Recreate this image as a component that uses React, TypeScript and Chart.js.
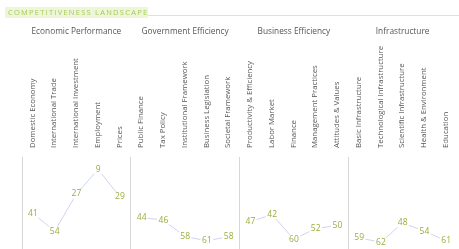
import React, { useEffect, useRef } from 'react';
import { Chart, registerables } from 'chart.js';

Chart.register(...registerables);

const headerTitle = 'COMPETITIVENESS LANDSCAPE';
const groups = ['Economic Performance', 'Government Efficiency', 'Business Efficiency', 'Infrastructure'];
const economicFactors = ['Domestic Economy', 'International Trade', 'International Investment', 'Employment', 'Prices'];
const governmentFactors = ['Public Finance', 'Tax Policy', 'Institutional Framework', 'Business Legislation', 'Societal Framework'];
const businessFactors = ['Productivity & Efficiency', 'Labor Market', 'Finance', 'Management Practices', 'Attitudes & Values'];
const infrastructureFactors = ['Basic Infrastructure', 'Technological Infrastructure', 'Scientific Infrastructure', 'Health & Environment', 'Education'];

const economicRanks = [41, 54, 27, 9, 29];
const governmentRanks = [44, 46, 58, 61, 58];
const businessRanks = [47, 42, 60, 52, 50];
const infrastructureRanks = [59, 62, 48, 54, 61];

const FONT = '"Open Sans", "DejaVu Sans", sans-serif';
const LINE_COLOR = '#cdd5f0';
const LABEL_COLOR = '#98ae3e';

export default function App() {
  const ref = useRef<HTMLCanvasElement | null>(null);

  useEffect(() => {
    if (!ref.current) return;
    const labels = [...economicFactors, ...governmentFactors, ...businessFactors, ...infrastructureFactors];
    const values = [...economicRanks, ...governmentRanks, ...businessRanks, ...infrastructureRanks];
    const groupSize = economicFactors.length;

    const decorPlugin = {
      id: 'decor',
      afterDraw(chart: any) {
        const ctx = chart.ctx;
        const x = chart.scales.x;
        ctx.save();
        // header bar
        ctx.fillStyle = '#eef6d8';
        ctx.fillRect(5, 7, 143, 11);
        ctx.strokeStyle = '#e0e0e0';
        ctx.lineWidth = 1;
        ctx.beginPath();
        ctx.moveTo(148, 15.5);
        ctx.lineTo(chart.width, 15.5);
        ctx.stroke();
        ctx.fillStyle = '#a6c95a';
        ctx.font = `7.5px ${FONT}`;
        (ctx as any).letterSpacing = '1.25px';
        ctx.textAlign = 'left';
        ctx.textBaseline = 'middle';
        ctx.fillText(headerTitle, 8, 12.5);
        (ctx as any).letterSpacing = '0px';
        // group titles
        ctx.fillStyle = '#555';
        ctx.font = `8.3px ${FONT}`;
        ctx.textAlign = 'center';
        groups.forEach((g, i) => {
          const cx = x.getPixelForValue(i * groupSize + (groupSize - 1) / 2);
          ctx.fillText(g, cx, 31.5);
        });
        ctx.restore();
      },
      afterDatasetsDraw(chart: any) {
        const ctx = chart.ctx;
        const meta = chart.getDatasetMeta(0);
        const data = chart.data.datasets[0].data;
        ctx.save();
        ctx.font = `8.5px ${FONT}`;
        ctx.textAlign = 'center';
        ctx.textBaseline = 'middle';
        meta.data.forEach((pt: any, i: number) => {
          const t = String(data[i]);
          const w = ctx.measureText(t).width;
          ctx.fillStyle = '#ffffff';
          ctx.fillRect(pt.x - w / 2 - 1.5, pt.y - 4.5, w + 3, 9);
          ctx.fillStyle = LABEL_COLOR;
          ctx.fillText(t, pt.x, pt.y);
        });
        ctx.restore();
      },
    };

    const chart = new Chart(ref.current, {
      type: 'line',
      data: {
        labels,
        datasets: [
          {
            data: values,
            borderColor: LINE_COLOR,
            borderWidth: 1,
            pointRadius: 0,
            fill: false,
            segment: {
              borderColor: (c: any) => (c.p0DataIndex % groupSize === groupSize - 1 ? 'rgba(0,0,0,0)' : LINE_COLOR),
            },
          },
        ],
      },
      options: {
        responsive: false,
        animation: false,
        devicePixelRatio: 1,
        layout: { padding: { top: 45, left: 22, right: 2, bottom: 0 } },
        plugins: { legend: { display: false }, tooltip: { enabled: false }, title: { display: false } },
        scales: {
          x: {
            position: 'top',
            offset: true,
            clip: false,
            border: { display: false },
            afterFit: (scale: any) => {
              scale.height = 112;
            },
            grid: {
              offset: true,
              drawTicks: false,
              lineWidth: 1,
              color: (c: any) => (c.index % groupSize === 0 ? '#d6d6d6' : 'rgba(0,0,0,0)'),
            },
            ticks: {
              autoSkip: false,
              maxRotation: 90,
              minRotation: 90,
              padding: 9,
              labelOffset: 9,
              color: '#595959',
              font: { size: 7.8, family: FONT },
            },
          },
          y: {
            display: false,
            reverse: true,
            min: 0,
            max: 67,
          },
        },
      } as any,
      plugins: [decorPlugin],
    });
    return () => chart.destroy();
  }, []);

  return (
    <div style={{ position: 'absolute', left: 0, top: 0, width: 459, height: 249, background: '#fff' }}>
      <canvas ref={ref} width={459} height={249} style={{ width: 459, height: 249 }} />
    </div>
  );
}
